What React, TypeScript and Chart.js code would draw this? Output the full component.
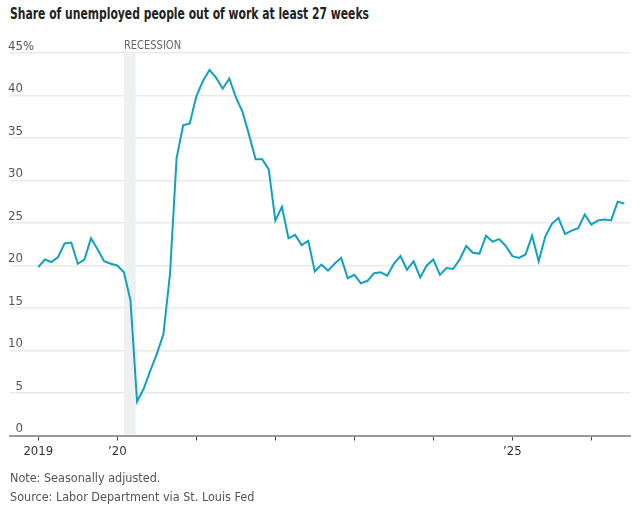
import React, { useEffect, useRef } from "react";
import { Chart, registerables } from "chart.js";

Chart.register(...registerables);

const FONT = '"Liberation Sans Narrow", "DejaVu Sans Condensed", Roboto, sans-serif';

// Monthly share (%) of unemployed out of work 27+ weeks, Jan 2019 onward
const share2019 = [19.8, 20.7, 20.4, 21.0, 22.6, 22.7, 20.2, 20.7, 23.2, 21.9, 20.5, 20.2];
const share2020 = [20.0, 19.2, 15.9, 4.0, 5.5, 7.6, 9.6, 11.9, 19.0, 32.6, 36.5, 36.7];
const share2021 = [39.9, 41.7, 43.0, 42.1, 40.8, 42.0, 39.8, 38.1, 35.4, 32.5, 32.5, 31.3];
const share2022 = [25.3, 26.9, 23.2, 23.6, 22.4, 22.9, 19.3, 20.1, 19.4, 20.2, 20.9, 18.5];
const share2023 = [18.9, 17.9, 18.2, 19.1, 19.2, 18.8, 20.2, 21.1, 19.5, 20.5, 18.6, 20.0];
const share2024 = [20.7, 18.9, 19.7, 19.6, 20.7, 22.3, 21.5, 21.4, 23.5, 22.8, 23.1, 22.3];
const share2025 = [21.1, 20.9, 21.3, 23.5, 20.5, 23.4, 24.9, 25.6, 23.7, 24.1, 24.4, 26.0];
const share2026 = [24.8, 25.3, 25.4, 25.3, 27.5, 27.3];

const years = [2019, 2020, 2021, 2022, 2023, 2024, 2025, 2026];
const yearTickLabels = ["2019", "\u201920", "", "", "", "", "\u201925", ""];
const yTickValues = [0, 5, 10, 15, 20, 25, 30, 35, 40, 45];

// Recession: Feb 2020 – Apr 2020 (month index from Jan 2019)
const recessionStart = 13;
const recessionEnd = 14.8;

const allShares = [
  ...share2019, ...share2020, ...share2021, ...share2022,
  ...share2023, ...share2024, ...share2025, ...share2026,
];

export default function App() {
  const canvasRef = useRef<HTMLCanvasElement | null>(null);

  useEffect(() => {
    const canvas = canvasRef.current;
    if (!canvas) return;

    const recessionPlugin = {
      id: "recessionBand",
      beforeDatasetsDraw(chart: any) {
        const { ctx, chartArea, scales } = chart;
        const x0 = scales.x.getPixelForValue(recessionStart);
        const x1 = scales.x.getPixelForValue(recessionEnd);
        ctx.save();
        ctx.fillStyle = "#eff0f2";
        ctx.fillRect(x0, chartArea.top, x1 - x0, chartArea.bottom - chartArea.top - 1);
        ctx.fillStyle = "#666";
        ctx.font = `13px ${FONT}`;
        ctx.textAlign = "left";
        ctx.textBaseline = "middle";
        ctx.translate(x0, chartArea.top - 7);
        ctx.scale(0.85, 1);
        ctx.fillText("RECESSION", 0, 0);
        ctx.restore();
      },
    };

    const yLabelPlugin = {
      id: "yLabels",
      afterDraw(chart: any) {
        const { ctx, chartArea, scales } = chart;
        ctx.save();
        ctx.fillStyle = "#555";
        ctx.font = `13px ${FONT}`;
        ctx.textBaseline = "middle";
        const xr = chartArea.left + 13;
        yTickValues.forEach((v, i) => {
          const y = scales.y.getPixelForValue(v) - 6.5;
          ctx.textAlign = "right";
          ctx.fillText(String(v), xr, y);
          if (i === yTickValues.length - 1) {
            ctx.textAlign = "left";
            ctx.fillText("%", xr, y);
          }
        });
        ctx.restore();
      },
    };

    const chart = new Chart(canvas, {
      type: "line",
      data: {
        datasets: [
          {
            data: allShares.map((v, i) => ({ x: i, y: v })),
            borderColor: "#10a2bd",
            borderWidth: 2,
            pointRadius: 0,
            tension: 0,
            fill: false,
          },
        ],
      },
      options: {
        animation: false,
        responsive: false,
        devicePixelRatio: 1,
        layout: { padding: { top: 23, left: 10, right: 12, bottom: 0 } },
        plugins: { legend: { display: false }, tooltip: { enabled: false } },
        scales: {
          x: {
            type: "linear",
            min: -4.3,
            max: 89.87,
            afterBuildTicks: (scale: any) => {
              scale.ticks = years.map((_, i) => ({ value: i * 12 }));
            },
            afterFit: (scale: any) => {
              scale.height = 34.5;
            },
            ticks: {
              autoSkip: false,
              maxRotation: 0,
              padding: 3,
              color: "#333",
              font: { family: FONT, size: 13 },
              callback: (value: any) => {
                const idx = Math.round(Number(value) / 12);
                return yearTickLabels[idx] ?? "";
              },
            },
            grid: {
              drawOnChartArea: false,
              drawTicks: true,
              tickLength: 5,
              color: "#444",
              lineWidth: 1,
            },
            border: { display: true, color: "#999", width: 2 },
          },
          y: {
            min: 0,
            max: 45,
            afterFit: (scale: any) => {
              scale.width = 0;
            },
            ticks: { display: false, stepSize: 5 },
            grid: { color: "#e9e9e9", lineWidth: 1.5, drawTicks: false },
            border: { display: false },
          },
        },
      },
      plugins: [recessionPlugin, yLabelPlugin],
    });

    return () => chart.destroy();
  }, []);

  return (
    <div
      style={{
        position: "fixed",
        left: 0,
        top: 0,
        width: 642,
        height: 515,
        background: "#fff",
        fontFamily: FONT,
      }}
    >
      <div
        style={{
          position: "absolute",
          left: 10,
          top: 5,
          fontSize: 15,
          lineHeight: "18px",
          fontWeight: "bold",
          color: "#222",
          whiteSpace: "nowrap",
          transform: "scaleX(0.8)",
          transformOrigin: "left center",
        }}
      >
        Share of unemployed people out of work at least 27 weeks
      </div>
      <div style={{ position: "absolute", left: 0, top: 30, width: 642, height: 440 }}>
        <canvas ref={canvasRef} width={642} height={440} style={{ width: 642, height: 440 }} />
      </div>
      <div
        style={{
          position: "absolute",
          left: 10,
          top: 469,
          fontSize: 12.5,
          lineHeight: "18.7px",
          color: "#555",
          whiteSpace: "nowrap",
        }}
      >
        <div>Note: Seasonally adjusted.</div>
        <div>Source: Labor Department via St. Louis Fed</div>
      </div>
    </div>
  );
}
